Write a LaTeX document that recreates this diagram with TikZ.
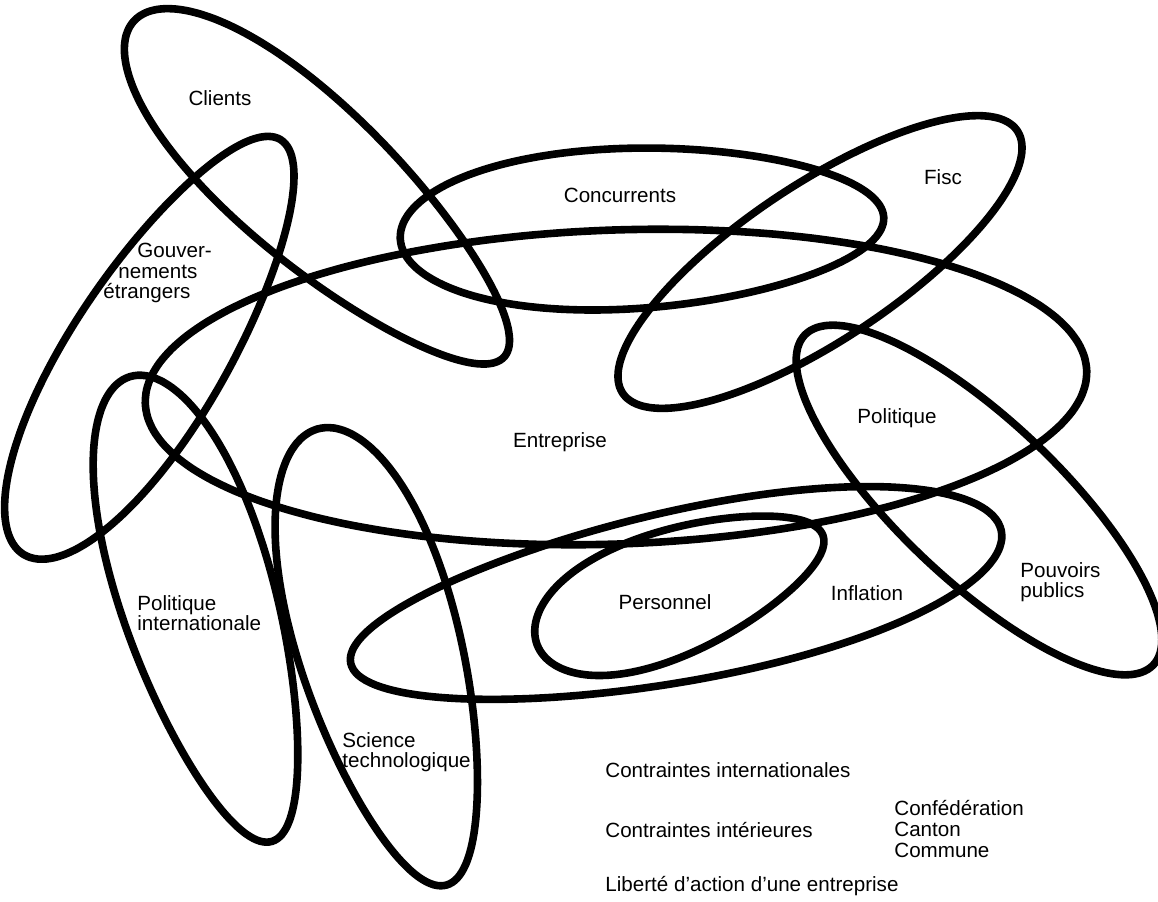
\documentclass[tikz,border=0pt]{standalone}
\usepackage{fontspec}
\setmainfont{Liberation Sans}

\begin{document}
\begin{tikzpicture}[x=0.5pt, y=-0.5pt,
  ring/.style={line width=3.8pt},
  lbl/.style={font=\fontsize{10.3}{10.3}\selectfont, inner sep=0pt, align=left}]
\useasboundingbox (0,0) rectangle (1158,901);
% the loops: centre x/centre y/angle/long radius/short radius/egg
\foreach \cx/\cy/\ang/\ra/\rb/\k in {616/387/2/471/157/0, 319/189/-42.2/250/78/-0.15,
    152/347/58.2/244/78/-0.1, 642/228/2.5/242/80/-0.1, 820/262/33.6/237/78/0,
    979/500/-43.4/240/80/0, 676/597/11.5/332/85/0.1, 680/590/21/153/62/-0.2,
    201/609/-73/243/77/-0.15, 382/657/-74.2/237/81/-0.15}
  \draw [ring, shift={(\cx,\cy)}, rotate=\ang] plot [smooth cycle, samples=72, domain=0:355, variable=\t]
    ({\ra*cos(\t)}, {\rb*sin(\t)*(1+\k*cos(\t))});

\node [lbl] (clients) at (220,98) {Clients};
\node [lbl, anchor=west] (gouv) at (103,273) {\hspace*{17pt}Gouver-\\\hspace*{7.5pt}nements\\étrangers};
\node [lbl] (concur) at (620,195) {Concurrents};
\node [lbl] (fisc) at (943,177) {Fisc};
\node [lbl] (entr) at (560,442) {Entreprise};
\node [lbl] (polit) at (897,418) {Politique};
\node [lbl, anchor=west] (pouv) at (1020,582) {Pouvoirs\\publics};
\node [lbl] (infl) at (867,593) {Inflation};
\node [lbl] (pers) at (665,602) {Personnel};
\node [lbl, anchor=west] (polint) at (137,613) {Politique\\internationale};
\node [lbl, anchor=west] (science) at (342,752) {Science\\technologique};

\node [lbl, anchor=west] (cinter) at (605,770) {Contraintes internationales};
\node [lbl, anchor=west] (cint) at (605,830) {Contraintes intérieures};
\node [lbl, anchor=west] (etat) at (894,829) {Confédération\\Canton\\Commune};
\node [lbl, anchor=west] (liberte) at (605,886) {Liberté d’action d’une entreprise};
\end{tikzpicture}
\end{document}
